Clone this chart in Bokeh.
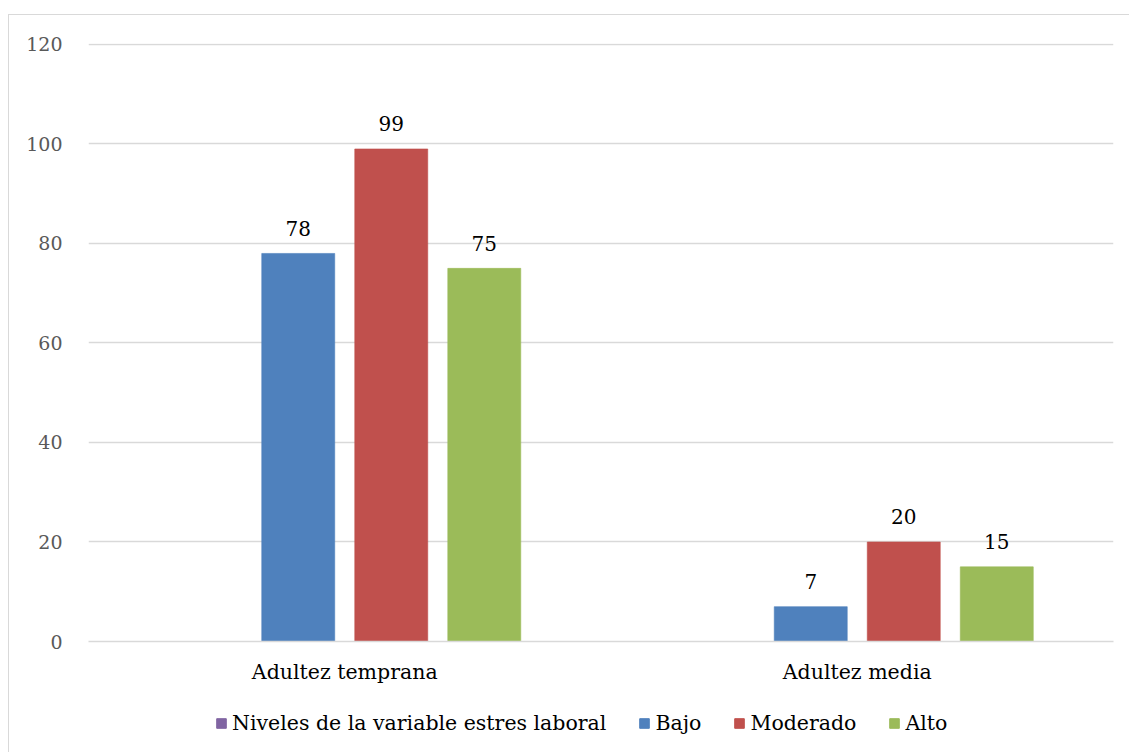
from bokeh.plotting import figure
from bokeh.layouts import column
from bokeh.models import FactorRange, Range1d, ColumnDataSource, Legend, LegendItem, FixedTicker
from bokeh.transform import dodge
from bokeh.core.properties import value
from bokeh.embed import file_html
from bokeh.resources import INLINE

categories = ["Adultez temprana", "Adultez media"]
series_names = ["Niveles de la variable estres laboral", "Bajo", "Moderado", "Alto"]
niveles = [float("nan"), float("nan")]  # series without values
bajo = [78, 7]
moderado = [99, 20]
alto = [75, 15]
y_ticks = [0, 20, 40, 60, 80, 100, 120]

colors = ["#8064A2", "#4F81BD", "#C0504D", "#9BBB59"]
FONT = "DejaVu Serif"
FS_TXT = "20.5px"
FS_NUM = "19px"
FS_LBL = "20px"

source = ColumnDataSource(dict(
    cat=categories,
    niveles=niveles,
    bajo=bajo,
    moderado=moderado,
    alto=alto,
    bajo_lbl=[str(v) for v in bajo],
    moderado_lbl=[str(v) for v in moderado],
    alto_lbl=[str(v) for v in alto],
))

p = figure(
    x_range=FactorRange(*categories),
    y_range=Range1d(0, 120.2),
    width=1120, height=686,
    output_backend="svg", toolbar_location=None,
    min_border_left=79, min_border_right=16, min_border_top=28, min_border_bottom=60,
)
p.outline_line_color = None
p.background_fill_color = "white"
p.border_fill_color = "white"

bw = 0.1424
step = 0.1815
offsets = [-1.5 * step, -0.5 * step, 0.5 * step, 1.5 * step]
fields = ["niveles", "bajo", "moderado", "alto"]

for f, off, c in zip(fields, offsets, colors):
    p.vbar(x=dodge("cat", off, range=p.x_range), top=f, width=bw, bottom=0,
           source=source, fill_color=c, line_color=c, line_alpha=0.6)

for f, off in zip(fields[1:], offsets[1:]):
    p.text(x=dodge("cat", off, range=p.x_range), y=f, text=f + "_lbl", source=source,
           y_offset=-25, text_align="center", text_baseline="alphabetic",
           text_font=value(FONT), text_font_size=value(FS_LBL), text_color="black")

p.xgrid.grid_line_color = None
p.ygrid.grid_line_color = "#d9d9d9"
p.ygrid.grid_line_width = 1.6
p.yaxis.ticker = FixedTicker(ticks=y_ticks)

p.yaxis.axis_line_color = None
p.yaxis.major_tick_line_color = None
p.yaxis.minor_tick_line_color = None
p.yaxis.major_label_text_font = FONT
p.yaxis.major_label_text_font_size = FS_NUM
p.yaxis.major_label_text_color = "#595959"
p.yaxis.major_label_standoff = 20

p.xaxis.axis_line_color = "#d9d9d9"
p.xaxis.axis_line_width = 1.6
p.xaxis.major_tick_line_color = None
p.xaxis.minor_tick_line_color = None
p.xaxis.major_label_text_font = FONT
p.xaxis.major_label_text_font_size = FS_TXT
p.xaxis.major_label_text_color = "black"
p.xaxis.major_label_standoff = 12

# legend strip
pl = figure(width=1120, height=51, output_backend="svg", toolbar_location=None,
            x_range=Range1d(0, 1), y_range=Range1d(0, 1),
            x_axis_type=None, y_axis_type=None,
            min_border_left=0, min_border_right=0, min_border_top=0, min_border_bottom=0)
pl.outline_line_color = None
pl.grid.grid_line_color = None
pl.border_fill_color = "white"

leg_renderers = []
for c in colors:
    # a point outside the visible range, only so that the legend swatch is drawn
    r = pl.vbar(x=[-10], top=[0], width=0.1, fill_color=c, line_color=c)
    leg_renderers.append(r)

legend = Legend(
    items=[LegendItem(label=n, renderers=[r]) for n, r in zip(series_names, leg_renderers)],
    orientation="horizontal", location=(127, 17),
    glyph_width=12, glyph_height=12, label_standoff=5, spacing=32,
    label_text_font=FONT, label_text_font_size=FS_TXT, label_text_color="black",
    border_line_color=None, background_fill_alpha=0, padding=0, margin=0,
)
pl.add_layout(legend)

layout = column(p, pl, spacing=0)
layout.styles = {"margin-left": "8px", "margin-top": "14px",
                 "border-left": "1px solid #d9d9d9", "border-top": "1px solid #d9d9d9"}

open("out.html", "w").write(file_html(layout, INLINE))
